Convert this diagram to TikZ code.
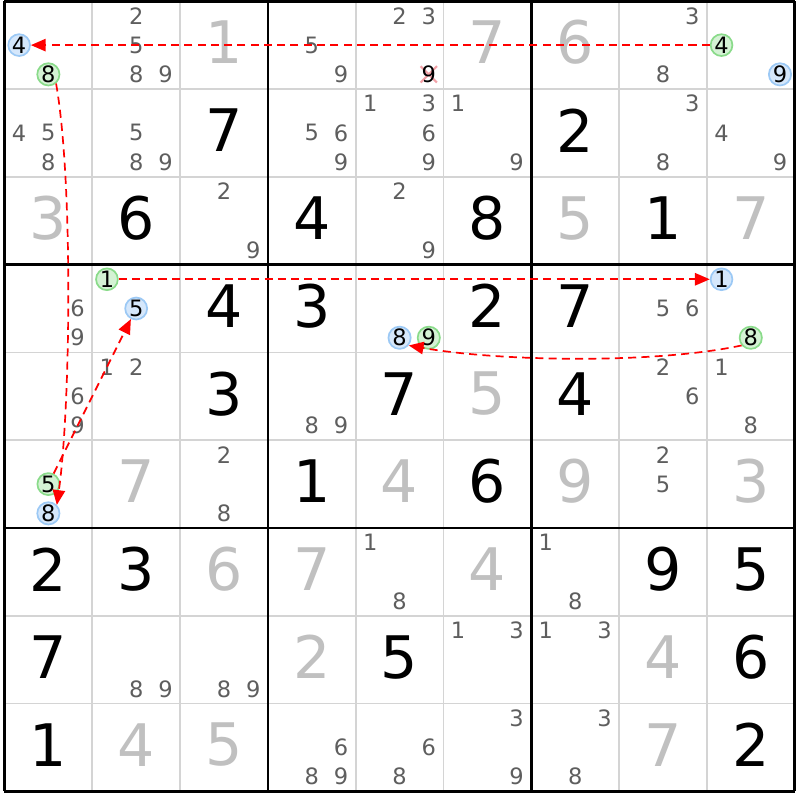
\documentclass[tikz,border=0pt]{standalone}
\usepackage{fontspec}
\setmainfont{DejaVu Sans}
\usepackage{xcolor}
\usetikzlibrary{arrows.meta}
\definecolor{gridgray}{HTML}{D4D4D4}
\definecolor{placedgray}{HTML}{C0C0C0}
\definecolor{candgray}{HTML}{5E5E5E}
\definecolor{bluefill}{HTML}{D5E7FB}
\definecolor{blueedge}{HTML}{9CC9F5}
\definecolor{greenfill}{HTML}{D4F2D4}
\definecolor{greenedge}{HTML}{8ADB8A}
\definecolor{strikepink}{HTML}{F2A2A8}

\tikzset{
	given/.style={inner sep=0pt, font=\fontsize{19}{19}\selectfont, text=black},
	placed/.style={given, text=placedgray},
	cand/.style={inner sep=0pt, font=\fontsize{7.3}{7.3}\selectfont, text=candgray},
	bluecand/.style={circle, inner sep=0pt, minimum size=0.245cm, line width=0.55pt, draw=blueedge, fill=bluefill, font=\fontsize{7.3}{7.3}\selectfont, text=black},
	greencand/.style={bluecand, draw=greenedge, fill=greenfill},
	link/.style={red, line width=0.55pt, dash pattern=on 2.6pt off 1.7pt, -{Triangle[length=4.8pt, width=4pt]}}
}

\begin{document}
\begin{tikzpicture}
		\fill[white] (-0.051,0.014) rectangle (9.061,-9.098);
		\useasboundingbox (-0.051,0.014) rectangle (9.061,-9.098);
		
		\foreach \i in {1,2,4,5,7,8} {
			\draw[gridgray, line width=0.55pt] (\i,0) -- (\i,-9);
			\draw[gridgray, line width=0.55pt] (0,-\i) -- (9,-\i);
		}
		\foreach \i in {0,3,6,9} {
			\draw[black, line width=0.85pt] (\i,0) -- (\i,-9);
			\draw[black, line width=0.85pt] (0,-\i) -- (9,-\i);
		}
		
		\foreach \row/\col/\dig in {1/2/7, 1/6/2, 2/1/6, 2/3/4, 2/5/8, 2/7/1, 3/2/4, 3/3/3, 3/5/2, 3/6/7,
			4/2/3, 4/4/7, 4/6/4, 5/3/1, 5/5/6, 6/0/2, 6/1/3, 6/7/9, 6/8/5, 7/0/7, 7/4/5, 7/8/6, 8/0/1, 8/8/2}
			\node[given] at ({\col+0.5}, {-\row-0.47}) {\dig};
		
		\foreach \row/\col/\dig in {0/2/1, 0/5/7, 0/6/6, 2/0/3, 2/6/5, 2/8/7, 4/5/5, 5/1/7, 5/4/4, 5/6/9, 5/8/3,
			6/2/6, 6/3/7, 6/5/4, 7/3/2, 7/7/4, 8/1/4, 8/2/5, 8/7/7}
			\node[placed] at ({\col+0.5}, {-\row-0.47}) {\dig};
		
		\foreach \row/\col/\digs in {0/1/{2,5,8,9}, 0/3/{5,9}, 0/4/{2,3}, 0/7/{3,8},
			1/0/{4,5,8}, 1/1/{5,8,9}, 1/3/{5,6,9}, 1/4/{1,3,6,9}, 1/5/{1,9}, 1/7/{3,8}, 1/8/{4,9},
			2/2/{2,9}, 2/4/{2,9}, 3/0/{6,9}, 3/7/{5,6},
			4/0/{6,9}, 4/1/{1,2}, 4/3/{8,9}, 4/7/{2,6}, 4/8/{1,8}, 5/2/{2,8}, 5/7/{2,5},
			6/4/{1,8}, 6/6/{1,8}, 7/1/{8,9}, 7/2/{8,9}, 7/5/{1,3}, 7/6/{1,3},
			8/3/{6,8,9}, 8/4/{6,8}, 8/5/{3,9}, 8/6/{3,8}}
			\foreach \dig in \digs
				\node[cand] at ({\col+(mod(\dig-1,3)+0.5)/3}, {-\row-(int((\dig-1)/3)+0.5)/3}) {\dig};
		
		\draw[strikepink, line width=0.7pt] (4.74,-0.74) -- (4.926,-0.926)
			(4.74,-0.926) -- (4.926,-0.74);
		\node[cand, text=black] (r1c5d9) at (4.833,-0.833) {9};
		
		\node[bluecand] (r1c1d4) at (0.167,-0.5) {4};
		\node[greencand] (r1c1d8) at (0.5,-0.833) {8};
		\node[greencand] (r1c9d4) at (8.167,-0.5) {4};
		\node[bluecand] (r1c9d9) at (8.833,-0.833) {9};
		\node[greencand] (r4c2d1) at (1.167,-3.167) {1};
		\node[bluecand] (r4c2d5) at (1.5,-3.5) {5};
		\node[bluecand] (r4c5d8) at (4.5,-3.833) {8};
		\node[greencand] (r4c5d9) at (4.833,-3.833) {9};
		\node[bluecand] (r4c9d1) at (8.167,-3.167) {1};
		\node[greencand] (r4c9d8) at (8.5,-3.833) {8};
		\node[greencand] (r6c1d5) at (0.5,-5.5) {5};
		\node[bluecand] (r6c1d8) at (0.5,-5.833) {8};
		
		\draw[link] (r1c9d4) -- (r1c1d4);
		\draw[link] (r1c1d8.-50) to[out=-80, in=82, looseness=0.6] (r6c1d8.45);
		\draw[link] (r6c1d5) -- (r4c2d5);
		\draw[link] (r4c2d1) -- (r4c9d1);
		\draw[link] (r4c9d8.-140) to[out=-168, in=-10, looseness=0.7] (r4c5d8.-40);
\end{tikzpicture}
\end{document}
